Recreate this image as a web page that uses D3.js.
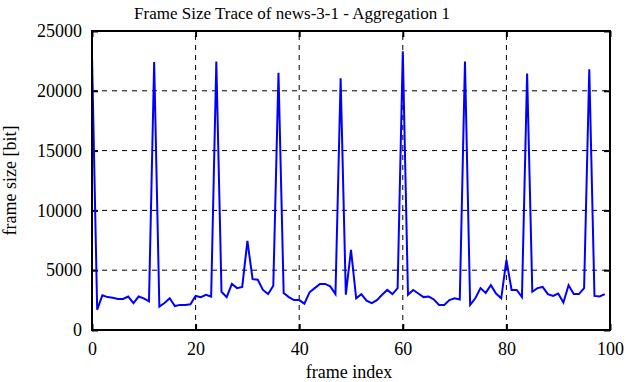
<!DOCTYPE html>
<html><head><meta charset="utf-8">
<script src="https://cdn.jsdelivr.net/npm/d3@7"></script>
<style>body{margin:0;background:#fff}svg{display:block}</style>
</head><body>
<script>
const title = "Frame Size Trace of news-3-1 - Aggregation 1";
const xLabel = "frame index";
const yLabel = "frame size [bit]";
const xTicks = [0, 20, 40, 60, 80, 100];
const yTicks = [0, 5000, 10000, 15000, 20000, 25000];
const frameSizes = [
  22900, 1700, 2900, 2750, 2700, 2600, 2600, 2800, 2250, 2800,
  2650, 2400, 22400, 1950, 2250, 2650, 2000, 2100, 2100, 2150,
  2850, 2750, 2950, 2800, 22450, 3200, 2750, 3850, 3500, 3600,
  7450, 4250, 4200, 3350, 3000, 3700, 21500, 3100, 2750, 2500,
  2500, 2200, 3150, 3500, 3850, 3850, 3650, 3000, 21050, 2950,
  6700, 2650, 3000, 2450, 2250, 2500, 2950, 3350, 3000, 3500,
  23300, 2950, 3350, 3050, 2750, 2800, 2550, 2100, 2100, 2500,
  2650, 2550, 22450, 2100, 2650, 3500, 3100, 3750, 3050, 2650,
  5850, 3350, 3350, 2750, 21450, 3200, 3500, 3600, 3000, 2850,
  3050, 2300, 3750, 3000, 3000, 3500, 21800, 2850, 2800, 3000
];
const W = 626, H = 382;
const m = {left: 92, right: 16, top: 31, bottom: 52};
const svg = d3.select("body").append("svg").attr("width", W).attr("height", H);
const x = d3.scaleLinear().domain([0, 100]).range([m.left, W - m.right]);
const y = d3.scaleLinear().domain([0, 25000]).range([H - m.bottom, m.top]);
const font = "'Liberation Serif', 'Times New Roman', serif";

// grid
const g = svg.append("g");
g.selectAll("line.gx").data(xTicks.slice(1, -1)).join("line")
  .attr("x1", d => x(d)).attr("x2", d => x(d)).attr("y1", y(0)).attr("y2", y(25000))
  .attr("stroke", "#000").attr("stroke-width", 1).attr("stroke-dasharray", "5,5");
g.selectAll("line.gy").data(yTicks.slice(1, -1)).join("line")
  .attr("x1", x(0)).attr("x2", x(100)).attr("y1", d => y(d)).attr("y2", d => y(d))
  .attr("stroke", "#000").attr("stroke-width", 1).attr("stroke-dasharray", "5,5");

// axes
function styleAxis(sel) {
  sel.attr("font-family", null).attr("font-size", null);
  sel.select(".domain").remove();
  sel.selectAll(".tick line").attr("stroke", "#000").attr("stroke-width", 2);
  sel.selectAll("text").style("font-family", font).style("font-size", "18px").attr("fill", "#000");
}
const fmt = d3.format("d");
svg.append("g").attr("transform", `translate(0,${y(0)})`)
  .call(d3.axisBottom(x).tickValues(xTicks).tickFormat(fmt).tickSize(-6).tickPadding(12)).call(styleAxis);
svg.append("g").attr("transform", `translate(0,${y(25000)})`)
  .call(d3.axisTop(x).tickValues(xTicks).tickSize(-6).tickFormat("")).call(styleAxis);
svg.append("g").attr("transform", `translate(${x(0)},0)`)
  .call(d3.axisLeft(y).tickValues(yTicks).tickFormat(fmt).tickSize(-6).tickPadding(10)).call(styleAxis);
svg.append("g").attr("transform", `translate(${x(100)},0)`)
  .call(d3.axisRight(y).tickValues(yTicks).tickSize(-6).tickFormat("")).call(styleAxis);

// line
const line = d3.line().x((d, i) => x(i)).y(d => y(d));
svg.append("path").datum(frameSizes).attr("d", line)
  .attr("fill", "none").attr("stroke", "#0000ff").attr("stroke-width", 2).attr("stroke-linejoin", "miter");

// frame
svg.append("rect").attr("x", x(0)).attr("y", y(25000))
  .attr("width", x(100) - x(0)).attr("height", y(0) - y(25000))
  .attr("fill", "none").attr("stroke", "#000").attr("stroke-width", 2);

// titles
svg.append("text").attr("x", 292).attr("y", 19).attr("text-anchor", "middle")
  .style("font-family", font).style("font-size", "17px").text(title);
svg.append("text").attr("x", 349).attr("y", 378).attr("text-anchor", "middle")
  .style("font-family", font).style("font-size", "18px").text(xLabel);
svg.append("text").attr("transform", `translate(16,${(y(0) + y(25000)) / 2}) rotate(-90)`)
  .attr("text-anchor", "middle").style("font-family", font).style("font-size", "18px").text(yLabel);
</script>
</body></html>
